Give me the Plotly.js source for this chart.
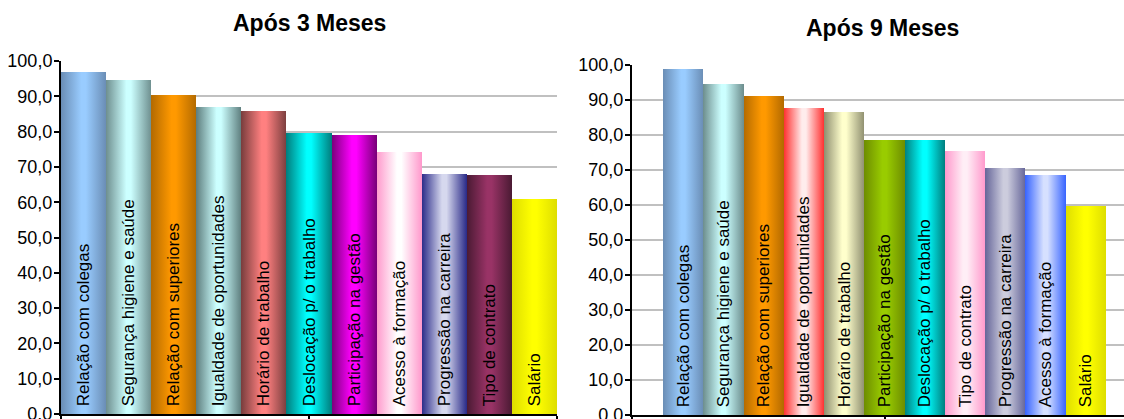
<!DOCTYPE html>
<html>
<head>
<meta charset="utf-8">
<script src="https://cdn.plot.ly/plotly-3.0.1.min.js"></script>
<style>
html,body{margin:0;padding:0;background:#fff;overflow:hidden;}
#chart{width:1150px;height:440px;}
</style>
</head>
<body>
<div id="chart"></div>
<script>
// ---- data ----
const title3 = "Após 3 Meses";
const title9 = "Após 9 Meses";
const cats3 = ["Relação com colegas","Segurança higiene e saúde","Relação com superiores","Igualdade de oportunidades","Horário de trabalho","Deslocação p/ o trabalho","Participação na gestão","Acesso à formação","Progressão na carreira","Tipo de contrato","Salário"];
const vals3 = [97.0, 94.6, 90.4, 87.0, 85.8, 79.7, 79.0, 74.2, 68.0, 67.7, 60.9];
const cats9 = ["Relação com colegas","Segurança higiene e saúde","Relação com superiores","Igualdade de oportunidades","Horário de trabalho","Participação na gestão","Deslocação p/ o trabalho","Tipo de contrato","Progressão na carreira","Acesso à formação","Salário"];
const vals9 = [98.7, 94.4, 91.0, 87.6, 86.4, 78.4, 78.4, 75.3, 70.4, 68.4, 59.8];

// ---- styles ----
const center3 = ["#99CCFF","#CCFFFF","#FF9900","#CCFFFF","#FF8080","#00FFFF","#FF00FF","#FFFFFF","#D6D8EE","#993366","#FFFF00"];
const edge3   = ["#6A8DB5","#6E8F8F","#B36A00","#5E7E7E","#7A3E3E","#007F7F","#7A007A","#FF99CC","#2A2A88","#4A1A33","#DEDE00"];
const center9 = ["#99CCFF","#CCFFFF","#FF9900","#FFECEC","#FFFFCC","#99CC00","#00FFFF","#FFEEF6","#CCCCDD","#D6E0FF","#FFFF00"];
const edge9   = ["#6A8DB5","#6E8F8F","#B36A00","#FF3030","#8F8F70","#6E8E00","#007F7F","#FF99CC","#666699","#3A66FF","#DEDE00"];

const W = 1150, H = 440;
const px = v => v / W;
const py = v => (H - v) / H;

const font = "Liberation Sans, Arial, sans-serif";

function barTrace(cats, vals, xa, ya, colors) {
  return {
    type: "bar",
    x: cats.map((_, i) => i),
    y: vals,
    xaxis: xa, yaxis: ya,
    width: 1,
    text: cats,
    texttemplate: "\u00A0%{text}",
    textposition: "inside",
    insidetextanchor: "start",
    textangle: -90,
    textfont: {family: font, size: 17, color: "#000"},
    insidetextfont: {family: font, size: 17, color: "#000"},
    constraintext: "none",
    marker: {color: colors, line: {width: 0}},
    hoverinfo: "none",
    showlegend: false
  };
}

const yax = (domain) => ({
  domain: domain,
  range: [0, 100],
  dtick: 10,
  tick0: 0,
  tickformat: ".1f",
  showgrid: true,
  gridcolor: "#C0C0C0",
  gridwidth: 2,
  zeroline: false,
  showline: true,
  linecolor: "#000",
  linewidth: 2,
  ticks: "outside",
  ticklen: 5,
  tickwidth: 2,
  tickcolor: "#000",
  ticklabelstandoff: -2,
  tickfont: {family: font, size: 18, color: "#000"},
  fixedrange: true
});

const xax = (domain, range, tv) => ({
  domain: domain,
  range: range,
  tickmode: "array",
  tickvals: tv,
  showticklabels: false,
  showgrid: false,
  zeroline: false,
  showline: true,
  linecolor: "#000",
  linewidth: 2,
  ticks: "outside",
  ticklen: 6,
  tickwidth: 2,
  tickcolor: "#000",
  fixedrange: true
});

const n3 = cats3.length, n9 = cats9.length;
const layout = {
  width: W, height: H,
  margin: {l: 0, r: 0, t: 0, b: 0},
  paper_bgcolor: "#fff",
  plot_bgcolor: "rgba(0,0,0,0)",
  separators: ",.",
  bargap: 0,
  font: {family: font, color: "#000"},
  xaxis: Object.assign(xax([px(61), px(557)], [-0.5, n3 - 0.5], [-0.5, (n3 - 1) / 2, n3 - 0.5]), {anchor: "y"}),
  yaxis: Object.assign(yax([py(414), py(61)]), {anchor: "x"}),
  xaxis2: Object.assign(xax([px(632), px(1137)], [-1.27, n9 - 1 + 1.27], [-1.27, (n9 - 1) / 2, n9 - 1 + 1.27]), {anchor: "y2"}),
  yaxis2: Object.assign(yax([py(415), py(64.7)]), {anchor: "x2"}),
  annotations: [
    {text: "<b>" + title3 + "</b>", xref: "paper", yref: "paper", x: px(309), y: py(23), xanchor: "center", yanchor: "middle", showarrow: false, font: {family: font, size: 23, color: "#000"}},
    {text: "<b>" + title9 + "</b>", xref: "paper", yref: "paper", x: px(882), y: py(28), xanchor: "center", yanchor: "middle", showarrow: false, font: {family: font, size: 23, color: "#000"}}
  ]
};

const data = [
  barTrace(cats3, vals3, "x", "y", center3),
  barTrace(cats9, vals9, "x2", "y2", center9)
];

Plotly.newPlot("chart", data, layout, {staticPlot: true, displayModeBar: false}).then(gd => {
  const svg = gd.querySelector(".main-svg");
  const NS = "http://www.w3.org/2000/svg";
  let defs = svg.querySelector("defs");
  if (!defs) { defs = document.createElementNS(NS, "defs"); svg.insertBefore(defs, svg.firstChild); }
  const traces = gd.querySelectorAll(".barlayer .trace");
  const sets = [[center3, edge3], [center9, edge9]];
  traces.forEach((tr, ti) => {
    const paths = tr.querySelectorAll(".point path");
    paths.forEach((p, i) => {
      const id = "grad" + ti + "_" + i;
      const g = document.createElementNS(NS, "linearGradient");
      g.setAttribute("id", id);
      g.setAttribute("x1", "0"); g.setAttribute("x2", "1");
      g.setAttribute("y1", "0"); g.setAttribute("y2", "0");
      const stops = [[0, sets[ti][1][i]], [0.45, sets[ti][0][i]], [0.55, sets[ti][0][i]], [1, sets[ti][1][i]]];
      stops.forEach(([o, c]) => {
        const s = document.createElementNS(NS, "stop");
        s.setAttribute("offset", o);
        s.setAttribute("stop-color", c);
        g.appendChild(s);
      });
      defs.appendChild(g);
      p.style.fill = "url(#" + id + ")";
    });
  });
});
</script>
</body>
</html>
